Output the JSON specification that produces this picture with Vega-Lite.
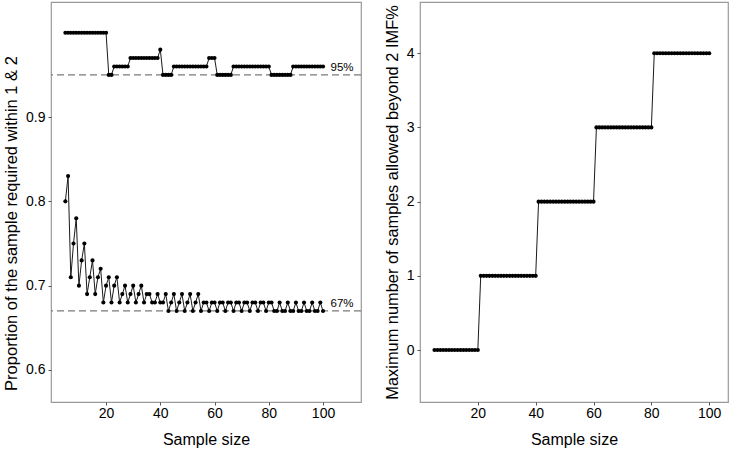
{
  "$schema": "https://vega.github.io/schema/vega-lite/v6.json",
  "padding": {"left": 2, "top": 1, "right": 0, "bottom": 0},
  "spacing": 20,
  "config": {
    "font": "Liberation Sans",
    "view": {"stroke": "#9a9a9a", "strokeWidth": 1.2},
    "axis": {
      "grid": false,
      "domain": false,
      "ticks": true,
      "tickSize": 3,
      "tickColor": "#555555",
      "labelFontSize": 14,
      "labelColor": "#000000",
      "labelPadding": 3,
      "titleFontSize": 16,
      "titleFontWeight": "normal",
      "titleColor": "#000000"
    }
  },
  "datasets": {
    "samples": [
      {"n": 5, "within1": 0.80, "within2": 1.00, "allowed": 0},
      {"n": 6, "within1": 0.83, "within2": 1.00, "allowed": 0},
      {"n": 7, "within1": 0.71, "within2": 1.00, "allowed": 0},
      {"n": 8, "within1": 0.75, "within2": 1.00, "allowed": 0},
      {"n": 9, "within1": 0.78, "within2": 1.00, "allowed": 0},
      {"n": 10, "within1": 0.70, "within2": 1.00, "allowed": 0},
      {"n": 11, "within1": 0.73, "within2": 1.00, "allowed": 0},
      {"n": 12, "within1": 0.75, "within2": 1.00, "allowed": 0},
      {"n": 13, "within1": 0.69, "within2": 1.00, "allowed": 0},
      {"n": 14, "within1": 0.71, "within2": 1.00, "allowed": 0},
      {"n": 15, "within1": 0.73, "within2": 1.00, "allowed": 0},
      {"n": 16, "within1": 0.69, "within2": 1.00, "allowed": 0},
      {"n": 17, "within1": 0.71, "within2": 1.00, "allowed": 0},
      {"n": 18, "within1": 0.72, "within2": 1.00, "allowed": 0},
      {"n": 19, "within1": 0.68, "within2": 1.00, "allowed": 0},
      {"n": 20, "within1": 0.70, "within2": 1.00, "allowed": 0},
      {"n": 21, "within1": 0.71, "within2": 0.95, "allowed": 1},
      {"n": 22, "within1": 0.68, "within2": 0.95, "allowed": 1},
      {"n": 23, "within1": 0.70, "within2": 0.96, "allowed": 1},
      {"n": 24, "within1": 0.71, "within2": 0.96, "allowed": 1},
      {"n": 25, "within1": 0.68, "within2": 0.96, "allowed": 1},
      {"n": 26, "within1": 0.69, "within2": 0.96, "allowed": 1},
      {"n": 27, "within1": 0.70, "within2": 0.96, "allowed": 1},
      {"n": 28, "within1": 0.68, "within2": 0.96, "allowed": 1},
      {"n": 29, "within1": 0.69, "within2": 0.97, "allowed": 1},
      {"n": 30, "within1": 0.70, "within2": 0.97, "allowed": 1},
      {"n": 31, "within1": 0.68, "within2": 0.97, "allowed": 1},
      {"n": 32, "within1": 0.69, "within2": 0.97, "allowed": 1},
      {"n": 33, "within1": 0.70, "within2": 0.97, "allowed": 1},
      {"n": 34, "within1": 0.68, "within2": 0.97, "allowed": 1},
      {"n": 35, "within1": 0.69, "within2": 0.97, "allowed": 1},
      {"n": 36, "within1": 0.69, "within2": 0.97, "allowed": 1},
      {"n": 37, "within1": 0.68, "within2": 0.97, "allowed": 1},
      {"n": 38, "within1": 0.68, "within2": 0.97, "allowed": 1},
      {"n": 39, "within1": 0.69, "within2": 0.97, "allowed": 1},
      {"n": 40, "within1": 0.68, "within2": 0.98, "allowed": 1},
      {"n": 41, "within1": 0.68, "within2": 0.95, "allowed": 2},
      {"n": 42, "within1": 0.69, "within2": 0.95, "allowed": 2},
      {"n": 43, "within1": 0.67, "within2": 0.95, "allowed": 2},
      {"n": 44, "within1": 0.68, "within2": 0.95, "allowed": 2},
      {"n": 45, "within1": 0.69, "within2": 0.96, "allowed": 2},
      {"n": 46, "within1": 0.67, "within2": 0.96, "allowed": 2},
      {"n": 47, "within1": 0.68, "within2": 0.96, "allowed": 2},
      {"n": 48, "within1": 0.69, "within2": 0.96, "allowed": 2},
      {"n": 49, "within1": 0.67, "within2": 0.96, "allowed": 2},
      {"n": 50, "within1": 0.68, "within2": 0.96, "allowed": 2},
      {"n": 51, "within1": 0.69, "within2": 0.96, "allowed": 2},
      {"n": 52, "within1": 0.67, "within2": 0.96, "allowed": 2},
      {"n": 53, "within1": 0.68, "within2": 0.96, "allowed": 2},
      {"n": 54, "within1": 0.69, "within2": 0.96, "allowed": 2},
      {"n": 55, "within1": 0.67, "within2": 0.96, "allowed": 2},
      {"n": 56, "within1": 0.68, "within2": 0.96, "allowed": 2},
      {"n": 57, "within1": 0.68, "within2": 0.96, "allowed": 2},
      {"n": 58, "within1": 0.67, "within2": 0.97, "allowed": 2},
      {"n": 59, "within1": 0.68, "within2": 0.97, "allowed": 2},
      {"n": 60, "within1": 0.68, "within2": 0.97, "allowed": 2},
      {"n": 61, "within1": 0.67, "within2": 0.95, "allowed": 3},
      {"n": 62, "within1": 0.68, "within2": 0.95, "allowed": 3},
      {"n": 63, "within1": 0.68, "within2": 0.95, "allowed": 3},
      {"n": 64, "within1": 0.67, "within2": 0.95, "allowed": 3},
      {"n": 65, "within1": 0.68, "within2": 0.95, "allowed": 3},
      {"n": 66, "within1": 0.68, "within2": 0.95, "allowed": 3},
      {"n": 67, "within1": 0.67, "within2": 0.96, "allowed": 3},
      {"n": 68, "within1": 0.68, "within2": 0.96, "allowed": 3},
      {"n": 69, "within1": 0.68, "within2": 0.96, "allowed": 3},
      {"n": 70, "within1": 0.67, "within2": 0.96, "allowed": 3},
      {"n": 71, "within1": 0.68, "within2": 0.96, "allowed": 3},
      {"n": 72, "within1": 0.68, "within2": 0.96, "allowed": 3},
      {"n": 73, "within1": 0.67, "within2": 0.96, "allowed": 3},
      {"n": 74, "within1": 0.68, "within2": 0.96, "allowed": 3},
      {"n": 75, "within1": 0.68, "within2": 0.96, "allowed": 3},
      {"n": 76, "within1": 0.67, "within2": 0.96, "allowed": 3},
      {"n": 77, "within1": 0.68, "within2": 0.96, "allowed": 3},
      {"n": 78, "within1": 0.68, "within2": 0.96, "allowed": 3},
      {"n": 79, "within1": 0.67, "within2": 0.96, "allowed": 3},
      {"n": 80, "within1": 0.68, "within2": 0.96, "allowed": 3},
      {"n": 81, "within1": 0.68, "within2": 0.95, "allowed": 4},
      {"n": 82, "within1": 0.67, "within2": 0.95, "allowed": 4},
      {"n": 83, "within1": 0.67, "within2": 0.95, "allowed": 4},
      {"n": 84, "within1": 0.68, "within2": 0.95, "allowed": 4},
      {"n": 85, "within1": 0.67, "within2": 0.95, "allowed": 4},
      {"n": 86, "within1": 0.67, "within2": 0.95, "allowed": 4},
      {"n": 87, "within1": 0.68, "within2": 0.95, "allowed": 4},
      {"n": 88, "within1": 0.67, "within2": 0.95, "allowed": 4},
      {"n": 89, "within1": 0.67, "within2": 0.96, "allowed": 4},
      {"n": 90, "within1": 0.68, "within2": 0.96, "allowed": 4},
      {"n": 91, "within1": 0.67, "within2": 0.96, "allowed": 4},
      {"n": 92, "within1": 0.67, "within2": 0.96, "allowed": 4},
      {"n": 93, "within1": 0.68, "within2": 0.96, "allowed": 4},
      {"n": 94, "within1": 0.67, "within2": 0.96, "allowed": 4},
      {"n": 95, "within1": 0.67, "within2": 0.96, "allowed": 4},
      {"n": 96, "within1": 0.68, "within2": 0.96, "allowed": 4},
      {"n": 97, "within1": 0.67, "within2": 0.96, "allowed": 4},
      {"n": 98, "within1": 0.67, "within2": 0.96, "allowed": 4},
      {"n": 99, "within1": 0.68, "within2": 0.96, "allowed": 4},
      {"n": 100, "within1": 0.67, "within2": 0.96, "allowed": 4}
    ],
    "targets": [
      {"label": "95%", "level": 0.95},
      {"label": "67%", "level": 0.67}
    ]
  },
  "hconcat": [
    {
      "width": 310,
      "height": 400,
      "layer": [
        {
          "data": {"name": "targets"},
          "mark": {"type": "rule", "color": "#7a7a7a", "strokeWidth": 1.3, "strokeDash": [7, 4]},
          "encoding": {
            "y": {"field": "level", "type": "quantitative"}
          }
        },
        {
          "data": {"name": "targets"},
          "mark": {"type": "text", "fontSize": 11.5, "color": "#000000", "dy": -7, "align": "center", "baseline": "middle"},
          "encoding": {
            "x": {"datum": 107, "type": "quantitative"},
            "y": {"field": "level", "type": "quantitative"},
            "text": {"field": "label"}
          }
        },
        {
          "data": {"name": "samples"},
          "transform": [{"fold": ["within1", "within2"], "as": ["series", "proportion"]}],
          "mark": {"type": "line", "color": "#1a1a1a", "strokeWidth": 1},
          "encoding": {
            "x": {"field": "n", "type": "quantitative"},
            "y": {"field": "proportion", "type": "quantitative"},
            "detail": {"field": "series"}
          }
        },
        {
          "data": {"name": "samples"},
          "transform": [{"fold": ["within1", "within2"], "as": ["series", "proportion"]}],
          "mark": {"type": "point", "filled": true, "color": "#000000", "size": 17, "opacity": 1},
          "encoding": {
            "x": {
              "field": "n",
              "type": "quantitative",
              "title": "Sample size",
              "scale": {"domain": [-0.3, 114], "nice": false, "zero": false},
              "axis": {"values": [20, 40, 60, 80, 100], "labelPadding": 1, "titlePadding": 11}
            },
            "y": {
              "field": "proportion",
              "type": "quantitative",
              "title": "Proportion of the sample required within 1 & 2",
              "scale": {"domain": [0.562, 1.0365], "nice": false, "zero": false},
              "axis": {"values": [0.6, 0.7, 0.8, 0.9], "format": ".1f", "titlePadding": 6, "titleFontSize": 16.5, "titleY": 221}
            },
            "detail": {"field": "series"}
          }
        }
      ]
    },
    {
      "width": 308,
      "height": 400,
      "data": {"name": "samples"},
      "layer": [
        {
          "mark": {"type": "line", "color": "#1a1a1a", "strokeWidth": 1},
          "encoding": {
            "x": {"field": "n", "type": "quantitative"},
            "y": {"field": "allowed", "type": "quantitative"}
          }
        },
        {
          "mark": {"type": "point", "filled": true, "color": "#000000", "size": 17, "opacity": 1},
          "encoding": {
            "x": {
              "field": "n",
              "type": "quantitative",
              "title": "Sample size",
              "scale": {"domain": [0, 106.5], "nice": false, "zero": false},
              "axis": {"values": [20, 40, 60, 80, 100], "labelPadding": 1, "titlePadding": 11}
            },
            "y": {
              "field": "allowed",
              "type": "quantitative",
              "title": "Maximum number of samples allowed beyond 2 IMF%",
              "scale": {"domain": [-0.7, 4.69], "nice": false, "zero": false},
              "axis": {"values": [0, 1, 2, 3, 4], "format": "d", "titlePadding": 6, "titleFontSize": 16.4}
            }
          }
        }
      ]
    }
  ]
}
